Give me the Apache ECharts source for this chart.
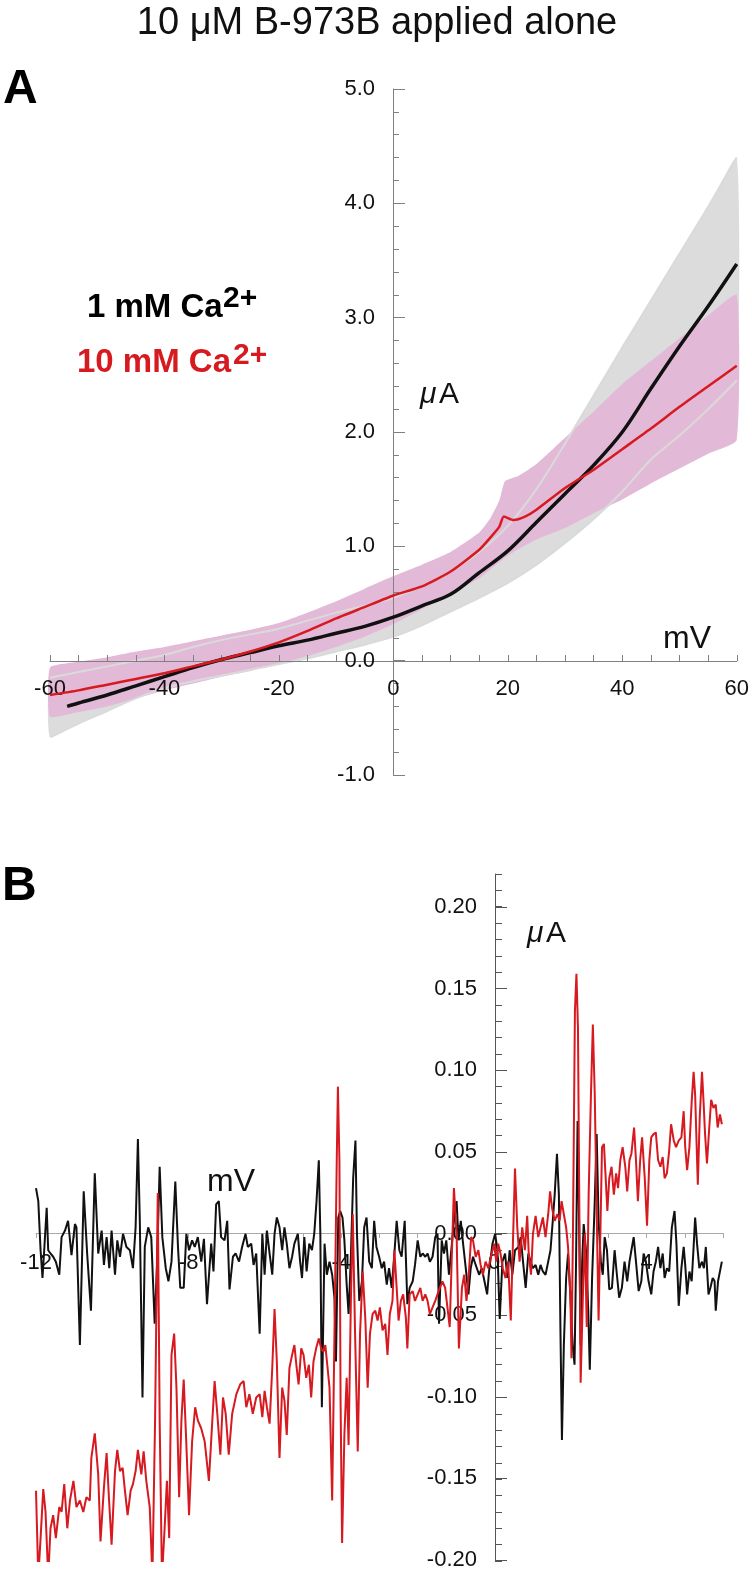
<!DOCTYPE html>
<html><head><meta charset="utf-8">
<script src="https://cdn.jsdelivr.net/npm/echarts@6/dist/echarts.min.js"></script>
<style>html,body{margin:0;padding:0;background:#fff}#c{width:752px;height:1571px}</style>
</head><body><div id="c"></div>
<script>
const FONT = '"Liberation Sans", Arial, Helvetica, sans-serif';

// ---------- Panel A : I-V curves (mV, uA) ----------
const aBlack = [[-57,-0.40],[-55,-0.37],[-50,-0.30],[-45,-0.22],[-40,-0.14],[-35,-0.06],[-30,0.01],[-25,0.07],[-20,0.13],[-15,0.18],[-10,0.24],[-5,0.30],[0,0.38],[5,0.48],[10,0.58],[15,0.77],[20,0.96],[25,1.21],[30,1.46],[35,1.71],[40,2.00],[45,2.38],[50,2.75],[55,3.10],[60,3.47]];
const aRed = [[-60,-0.30],[-55,-0.26],[-50,-0.21],[-45,-0.16],[-40,-0.11],[-35,-0.05],[-30,0.01],[-25,0.08],[-20,0.16],[-15,0.26],[-10,0.37],[-5,0.47],[0,0.57],[5,0.65],[10,0.78],[15,0.97],[17,1.08],[18.5,1.17],[19.3,1.26],[21,1.23],[23,1.26],[25,1.32],[30,1.51],[35,1.67],[40,1.85],[45,2.03],[50,2.22],[55,2.40],[60,2.58]];
const aGrayX    = [-60,-55,-50,-45,-40,-35,-30,-25,-20,-15,-10,-5,0,5,10,15,20,25,30,35,40,45,50,55,60];
const aGrayLow  = [-0.67,-0.55,-0.44,-0.33,-0.24,-0.18,-0.13,-0.08,-0.03,0.02,0.08,0.14,0.21,0.31,0.43,0.55,0.68,0.84,1.03,1.24,1.48,1.76,1.97,2.20,2.45];
const aGrayHigh = [-0.15,-0.10,-0.05,0.00,0.05,0.12,0.18,0.23,0.28,0.35,0.42,0.48,0.55,0.65,0.78,0.95,1.18,1.50,1.90,2.32,2.74,3.15,3.56,3.97,4.40];
const aPinkX    = [-60,-55,-50,-45,-40,-35,-30,-25,-20,-15,-10,-5,0,5,10,15,17,18.5,19.5,22,25,30,35,40,45,50,55,60];
const aPinkHigh = [-0.06,-0.01,0.03,0.08,0.12,0.17,0.22,0.27,0.33,0.42,0.52,0.63,0.74,0.84,0.95,1.12,1.25,1.40,1.57,1.62,1.72,1.95,2.18,2.42,2.62,2.82,3.02,3.20];
const aPinkLow  = [-0.49,-0.45,-0.40,-0.33,-0.26,-0.20,-0.14,-0.09,-0.03,0.04,0.12,0.21,0.32,0.45,0.58,0.72,0.80,0.86,0.90,0.98,1.06,1.16,1.29,1.41,1.55,1.68,1.81,1.93];
const aXLabels = [-60,-40,-20,0,20,40,60];

// ---------- Panel B : difference traces (mV, uA) ----------
const bBlack = [[-12.00,0.028],[-11.94,0.020],[-11.88,-0.010],[-11.83,-0.027],[-11.78,-0.008],[-11.72,0.016],[-11.68,-0.010],[-11.62,-0.012],[-11.55,-0.014],[-11.48,-0.017],[-11.39,-0.025],[-11.33,-0.002],[-11.24,0.002],[-11.16,0.008],[-11.07,-0.013],[-10.98,0.006],[-10.94,0.004],[-10.85,-0.068],[-10.75,0.026],[-10.66,-0.012],[-10.56,-0.047],[-10.46,0.037],[-10.37,-0.012],[-10.28,0.002],[-10.22,-0.019],[-10.15,-0.002],[-10.08,-0.021],[-10.02,0.002],[-9.93,-0.025],[-9.87,-0.004],[-9.80,-0.014],[-9.72,0.000],[-9.63,-0.008],[-9.54,-0.010],[-9.46,-0.021],[-9.39,0.004],[-9.33,0.058],[-9.28,0.008],[-9.21,-0.100],[-9.15,-0.008],[-9.06,0.004],[-8.98,-0.002],[-8.89,-0.055],[-8.83,-0.019],[-8.76,0.041],[-8.69,-0.002],[-8.60,-0.021],[-8.53,-0.029],[-8.45,-0.017],[-8.35,0.032],[-8.28,-0.008],[-8.22,-0.033],[-8.13,-0.033],[-8.06,0.000],[-7.99,-0.010],[-7.91,-0.004],[-7.84,-0.008],[-7.76,-0.002],[-7.67,-0.017],[-7.60,-0.003],[-7.52,-0.043],[-7.41,-0.006],[-7.35,-0.023],[-7.28,0.018],[-7.21,0.020],[-7.15,-0.002],[-7.06,-0.004],[-6.99,0.008],[-6.93,-0.034],[-6.84,-0.014],[-6.77,-0.012],[-6.68,-0.017],[-6.60,-0.008],[-6.51,0.000],[-6.45,-0.008],[-6.36,-0.006],[-6.30,-0.019],[-6.23,-0.012],
[-6.14,-0.061],[-6.07,0.000],[-6.01,-0.025],[-5.95,0.002],[-5.88,-0.012],[-5.81,-0.025],[-5.75,0.000],[-5.69,0.010],[-5.62,0.004],[-5.55,-0.010],[-5.49,0.004],[-5.43,-0.006],[-5.36,-0.021],[-5.29,-0.014],[-5.23,-0.006],[-5.14,0.000],[-5.08,-0.017],[-5.03,-0.027],[-4.97,-0.002],[-4.91,-0.023],[-4.84,-0.006],[-4.77,-0.010],[-4.71,0.000],[-4.65,0.020],[-4.59,0.045],[-4.55,0.000],[-4.51,-0.106],[-4.44,-0.006],[-4.38,-0.025],[-4.31,-0.017],[-4.24,-0.025],[-4.18,-0.039],[-4.14,-0.078],[-4.08,0.010],[-4.03,0.014],[-3.97,0.010],[-3.92,-0.004],[-3.86,-0.031],[-3.81,-0.049],[-3.75,-0.014],[-3.69,0.034],[-3.63,0.057],[-3.59,0.000],[-3.53,-0.041],[-3.46,-0.029],[-3.40,0.004],[-3.34,0.010],[-3.27,-0.017],[-3.20,-0.021],[-3.14,0.008],[-3.08,-0.008],[-3.01,-0.014],[-2.94,-0.021],[-2.88,-0.017],[-2.81,-0.031],[-2.75,-0.021],[-2.68,-0.033],[-2.61,-0.012],[-2.55,0.008],[-2.48,-0.010],[-2.42,-0.014],[-2.34,0.008],[-2.27,-0.043],[-2.21,-0.033],[-2.13,-0.029],[-2.07,-0.019],[-2.00,-0.004],[-1.93,-0.014],[-1.87,-0.012],[-1.80,-0.014],[-1.74,-0.012],[-1.68,-0.017],[-1.61,-0.014],[-1.54,-0.002],[-1.48,0.000],[-1.44,-0.055],[-1.37,-0.004],[-1.31,-0.012],[-1.25,-0.004],[-1.18,-0.025],[-1.11,-0.008],[-1.05,0.008],[-0.98,0.020],[-0.93,-0.004],[-0.87,0.008],[-0.81,-0.006],[-0.74,-0.021],[-0.67,-0.037],[-0.61,-0.021],[-0.55,-0.014],[-0.48,-0.019],[-0.39,-0.025],[-0.32,-0.021],[-0.25,-0.029],[-0.18,-0.037],
[-0.13,-0.023],[-0.04,-0.006],[0.03,0.000],[0.09,-0.010],[0.15,-0.052],[0.22,-0.017],[0.29,-0.012],[0.35,-0.027],[0.41,-0.010],[0.48,-0.025],[0.55,-0.010],[0.64,-0.008],[0.70,-0.002],[0.76,-0.017],[0.83,-0.033],[0.90,-0.012],[0.96,-0.017],[1.02,-0.021],[1.09,-0.019],[1.16,-0.025],[1.22,-0.019],[1.28,-0.023],[1.35,-0.025],[1.42,-0.017],[1.48,-0.010],[1.54,0.008],[1.59,0.024],[1.65,0.049],[1.70,0.024],[1.74,-0.057],[1.78,-0.126],[1.83,-0.068],[1.89,-0.027],[1.94,-0.012],[2.00,-0.037],[2.06,-0.068],[2.11,-0.080],[2.15,-0.017],[2.19,0.069],[2.22,0.024],[2.27,-0.068],[2.31,-0.017],[2.35,0.006],[2.41,-0.010],[2.47,-0.047],[2.51,-0.083],[2.57,-0.027],[2.64,0.020],[2.69,0.061],[2.74,0.008],[2.80,-0.017],[2.85,-0.025],[2.90,-0.002],[2.96,-0.010],[3.02,-0.034],[3.09,-0.033],[3.16,-0.010],[3.22,-0.025],[3.28,-0.039],[3.35,-0.033],[3.42,-0.017],[3.49,-0.029],[3.55,-0.017],[3.60,-0.010],[3.66,-0.002],[3.72,-0.017],[3.79,-0.035],[3.86,-0.029],[3.92,-0.012],[3.98,-0.017],[4.05,-0.029],[4.12,-0.037],[4.18,-0.023],[4.24,-0.017],[4.30,-0.008],[4.36,-0.021],[4.42,-0.012],[4.47,-0.027],[4.53,-0.021],[4.59,-0.023],[4.66,0.004],[4.73,0.014],[4.78,-0.006],[4.84,-0.044],[4.91,-0.021],[4.97,-0.008],[5.01,-0.019],[5.06,-0.037],[5.12,-0.023],[5.18,-0.029],[5.23,-0.008],[5.27,0.010],[5.32,-0.006],[5.38,-0.021],[5.45,-0.017],[5.50,-0.021],[5.55,-0.008],[5.62,-0.037],[5.67,-0.033],[5.73,-0.027],[5.78,-0.029],[5.81,-0.047],[5.87,-0.029],[5.92,-0.029],[5.97,-0.017]];

const bRed = [[-12.00,-0.157],[-11.94,-0.21],[-11.88,-0.186],[-11.81,-0.156],[-11.75,-0.170],[-11.68,-0.21],[-11.62,-0.180],[-11.55,-0.172],[-11.48,-0.186],[-11.39,-0.167],[-11.33,-0.170],[-11.26,-0.153],[-11.18,-0.180],[-11.11,-0.163],[-11.02,-0.151],[-10.94,-0.167],[-10.85,-0.163],[-10.76,-0.170],[-10.68,-0.161],[-10.59,-0.163],[-10.55,-0.137],[-10.46,-0.122],[-10.37,-0.147],[-10.31,-0.188],[-10.22,-0.155],[-10.15,-0.134],[-10.09,-0.161],[-10.02,-0.190],[-9.93,-0.145],[-9.87,-0.132],[-9.80,-0.145],[-9.73,-0.143],[-9.67,-0.157],[-9.60,-0.172],[-9.52,-0.157],[-9.46,-0.153],[-9.39,-0.145],[-9.33,-0.132],[-9.24,-0.147],[-9.18,-0.133],[-9.11,-0.151],[-9.02,-0.167],[-8.95,-0.21],[-8.88,-0.114],[-8.81,0.025],[-8.76,-0.114],[-8.70,-0.21],[-8.63,-0.180],[-8.57,-0.151],[-8.51,-0.186],[-8.45,-0.074],[-8.38,-0.061],[-8.32,-0.094],[-8.25,-0.161],[-8.19,-0.114],[-8.13,-0.089],[-8.06,-0.129],[-7.99,-0.172],[-7.91,-0.127],[-7.83,-0.106],[-7.76,-0.114],[-7.67,-0.119],[-7.58,-0.127],[-7.47,-0.151],[-7.38,-0.114],[-7.32,-0.090],[-7.25,-0.110],[-7.17,-0.135],[-7.10,-0.100],[-7.03,-0.110],[-6.95,-0.135],[-6.86,-0.110],[-6.75,-0.098],[-6.65,-0.092],[-6.56,-0.090],[-6.49,-0.106],[-6.41,-0.098],[-6.32,-0.110],[-6.23,-0.100],
[-6.14,-0.098],[-6.07,-0.112],[-6.01,-0.096],[-5.95,-0.106],[-5.88,-0.116],[-5.81,-0.082],[-5.75,-0.046],[-5.69,-0.078],[-5.62,-0.137],[-5.55,-0.094],[-5.49,-0.102],[-5.43,-0.123],[-5.36,-0.082],[-5.29,-0.074],[-5.23,-0.068],[-5.17,-0.082],[-5.12,-0.092],[-5.05,-0.070],[-4.99,-0.074],[-4.92,-0.088],[-4.85,-0.080],[-4.79,-0.100],[-4.73,-0.078],[-4.66,-0.070],[-4.59,-0.064],[-4.53,-0.070],[-4.47,-0.072],[-4.42,-0.068],[-4.36,-0.082],[-4.31,-0.094],[-4.24,-0.163],[-4.18,-0.061],[-4.12,0.045],[-4.09,0.090],[-4.05,0.045],[-4.02,-0.102],[-3.98,-0.189],[-3.92,-0.123],[-3.86,-0.088],[-3.81,-0.129],[-3.75,-0.041],[-3.70,0.012],[-3.64,-0.061],[-3.57,-0.133],[-3.51,-0.061],[-3.44,-0.023],[-3.37,-0.053],[-3.31,-0.094],[-3.25,-0.061],[-3.18,-0.049],[-3.11,-0.047],[-3.05,-0.053],[-2.99,-0.045],[-2.92,-0.059],[-2.85,-0.055],[-2.79,-0.074],[-2.73,-0.049],[-2.66,-0.041],[-2.61,-0.010],[-2.55,-0.033],[-2.50,-0.053],[-2.44,-0.041],[-2.38,-0.037],[-2.31,-0.051],[-2.27,-0.070],[-2.21,-0.037],[-2.13,-0.035],[-2.07,-0.041],[-2.00,-0.037],[-1.93,-0.033],[-1.87,-0.041],[-1.80,-0.037],[-1.74,-0.041],[-1.68,-0.049],[-1.61,-0.045],[-1.54,-0.041],[-1.48,-0.037],[-1.42,-0.033],[-1.35,-0.029],[-1.28,-0.033],[-1.22,-0.045],[-1.16,-0.057],[-1.11,-0.017],[-1.05,0.028],[-0.98,0.000],[-0.92,-0.070],[-0.84,-0.033],[-0.78,-0.025],[-0.72,-0.041],[-0.65,-0.021],[-0.60,-0.002],[-0.55,-0.004],[-0.48,-0.014],[-0.41,-0.010],[-0.35,-0.019],[-0.29,-0.025],[-0.22,-0.017],[-0.15,-0.021],
[-0.06,-0.012],[0.00,-0.006],[0.06,-0.017],[0.11,-0.006],[0.17,-0.012],[0.23,-0.021],[0.30,-0.027],[0.37,-0.017],[0.44,-0.053],[0.50,-0.002],[0.55,0.040],[0.61,0.004],[0.67,-0.017],[0.74,0.004],[0.81,-0.010],[0.87,0.011],[0.91,-0.012],[0.97,-0.025],[1.02,0.000],[1.09,0.011],[1.16,-0.002],[1.22,0.004],[1.28,0.010],[1.35,-0.002],[1.42,0.012],[1.47,0.026],[1.52,0.016],[1.59,0.008],[1.66,0.012],[1.72,0.008],[1.77,0.020],[1.83,0.012],[1.89,0.004],[1.94,-0.008],[2.00,-0.037],[2.03,-0.076],[2.07,0.004],[2.12,0.136],[2.16,0.159],[2.20,0.126],[2.24,0.004],[2.27,-0.091],[2.33,-0.037],[2.38,0.000],[2.43,-0.057],[2.48,0.024],[2.54,0.085],[2.59,0.128],[2.64,0.085],[2.69,0.014],[2.74,-0.053],[2.79,0.004],[2.83,0.053],[2.88,0.055],[2.92,0.037],[2.97,0.014],[3.02,0.034],[3.08,0.041],[3.14,0.024],[3.20,0.037],[3.25,0.028],[3.31,0.045],[3.37,0.053],[3.44,0.041],[3.49,0.026],[3.55,0.045],[3.60,0.049],[3.67,0.065],[3.72,0.045],[3.77,0.020],[3.83,0.045],[3.88,0.059],[3.95,0.034],[4.01,0.005],[4.07,0.045],[4.12,0.059],[4.18,0.061],[4.24,0.062],[4.30,0.045],[4.36,0.041],[4.42,0.047],[4.47,0.034],[4.53,0.037],[4.59,0.051],[4.64,0.067],[4.71,0.057],[4.77,0.053],[4.84,0.057],[4.91,0.059],[4.97,0.075],[5.01,0.053],[5.06,0.039],[5.12,0.053],[5.18,0.081],[5.23,0.099],[5.27,0.085],[5.34,0.030],[5.39,0.071],[5.45,0.099],[5.49,0.081],[5.53,0.061],[5.58,0.043],[5.64,0.065],[5.69,0.082],[5.75,0.077],[5.81,0.079],[5.86,0.065],[5.92,0.073],[5.97,0.067]];
const bXLabels = [-12,-8,-4,0,4];

// ---------- colours ----------
const BLACK = '#111111', RED = '#d71920', GRAY_BAND = '#dcdcdc', GRAY_EDGE = '#dadada', PINK_BAND = '#e2bad8';

// ---------- layout (pixels of the 752 x 1571 page) ----------
const A_LEFT = 50, A_RIGHT = 15, A_TOP = 89, A_H = 686;          // x -60..60, y -1..5
const A_ZERO_X = 343, A_ZERO_Y = 114;                               // offsets of the zero lines from grid edges
const B_LEFT = 36, B_RIGHT = 29, B_TOP = 874, B_H = 687;            // x -12..6, y -0.20..0.22
const B2_TOP = 907, B2_H = 654;                                     // y -0.20..0.20
const B_ZERO_X = 459, B_ZERO_Y = 328;

function bandSeries(xs, lo, hi, color, z) {
  return {
    type: 'custom', xAxisIndex: 0, yAxisIndex: 0, silent: true, z: z,
    data: [[xs[0], lo[0]]],
    renderItem: function (params, api) {
      if (params.dataIndex !== 0) return null;
      const pts = [];
      for (let i = 0; i < xs.length; i++) pts.push(api.coord([xs[i], hi[i]]));
      for (let i = xs.length - 1; i >= 0; i--) pts.push(api.coord([xs[i], lo[i]]));
      return { type: 'polygon', shape: { points: pts, smooth: 0.15 }, style: { fill: color, stroke: null } };
    }
  };
}
function edgeSeries(xs, ys, color, z) {
  return { type: 'line', xAxisIndex: 0, yAxisIndex: 0, data: xs.map((x, i) => [x, ys[i]]),
    showSymbol: false, symbol: 'none', z: z, smooth: 0.3, silent: true,
    lineStyle: { color: color, width: 2 } };
}

function txt(x, y, text, font, fill, align) {
  return { type: 'text', x: x, y: y, silent: true, z: 100,
    style: { text: text, font: font, fill: fill, textAlign: align || 'left', align: align || 'left',
             textVerticalAlign: 'middle', verticalAlign: 'middle' } };
}

const chart = echarts.init(document.getElementById('c'), null, { renderer: 'canvas' });
chart.setOption({
  animation: false,
  backgroundColor: '#ffffff',
  textStyle: { fontFamily: FONT },
  grid: [
    { left: A_LEFT, right: A_RIGHT, top: A_TOP, height: A_H },
    { left: B_LEFT, right: B_RIGHT, top: B_TOP, height: B_H },
    { left: B_LEFT, right: B_RIGHT, top: B2_TOP, height: B2_H }
  ],
  xAxis: [
    { gridIndex: 0, type: 'value', min: -60, max: 60, interval: 5, position: 'bottom', offset: -A_ZERO_Y, z: 10,
      axisLine: { onZero: false, lineStyle: { color: '#808080', width: 1 } },
      axisTick: { inside: true, length: 6, lineStyle: { color: '#808080' } },
      axisLabel: { showMinLabel: true, showMaxLabel: true, fontSize: 22, color: '#111', margin: 17, fontFamily: FONT,
        formatter: function (v) { const r = Math.round(v); return aXLabels.indexOf(r) >= 0 && Math.abs(v - r) < 1e-6 ? String(r) : ''; } },
      splitLine: { show: false } },
    { gridIndex: 1, type: 'value', min: -12, max: 6, interval: 1, position: 'bottom', offset: -B_ZERO_Y,
      axisLine: { onZero: false, lineStyle: { color: '#a8a8a8', width: 1 } },
      axisTick: { inside: false, length: 5, lineStyle: { color: '#a8a8a8' } },
      axisLabel: { showMinLabel: true, fontSize: 22, color: '#111', margin: 19, fontFamily: FONT,
        formatter: function (v) { const r = Math.round(v); return bXLabels.indexOf(r) >= 0 && Math.abs(v - r) < 1e-6 ? String(r) : ''; } },
      splitLine: { show: false } },
    { gridIndex: 2, type: 'value', min: -12, max: 6, show: false, splitLine: { show: false } }
  ],
  yAxis: [
    { gridIndex: 0, type: 'value', min: -1, max: 5, interval: 1, position: 'left', offset: -A_ZERO_X, z: 10,
      axisLine: { onZero: false, lineStyle: { color: '#808080', width: 1 } },
      axisTick: { inside: true, length: 12, lineStyle: { color: '#808080' } },
      minorTick: { show: true, splitNumber: 5, length: 6, lineStyle: { color: '#808080' } },
      axisLabel: { fontSize: 22, color: '#111', margin: 18, fontFamily: FONT, showMinLabel: true, showMaxLabel: true,
        formatter: function (v) { return v.toFixed(1); } },
      splitLine: { show: false }, minorSplitLine: { show: false } },
    { gridIndex: 1, type: 'value', min: -0.2, max: 0.22, interval: 0.01, position: 'left', offset: -B_ZERO_X,
      axisLine: { onZero: false, lineStyle: { color: '#555', width: 1 } },
      axisTick: { inside: true, length: 7, lineStyle: { color: '#555' } },
      axisLabel: { show: false }, splitLine: { show: false } },
    { gridIndex: 2, type: 'value', min: -0.2, max: 0.2, interval: 0.05, position: 'left', offset: -B_ZERO_X,
      axisLine: { onZero: false, lineStyle: { color: '#555', width: 1 } },
      axisTick: { inside: true, length: 12, lineStyle: { color: '#555' } },
      axisLabel: { fontSize: 22, color: '#111', margin: 18, fontFamily: FONT, showMinLabel: true, showMaxLabel: true,
        formatter: function (v) { return v.toFixed(2); } },
      splitLine: { show: false } }
  ],
  series: [
    bandSeries(aGrayX, aGrayLow, aGrayHigh, GRAY_BAND, 1),
    bandSeries(aPinkX, aPinkLow, aPinkHigh, PINK_BAND, 2),
    edgeSeries(aGrayX, aGrayLow, GRAY_EDGE, 3),
    edgeSeries(aGrayX, aGrayHigh, GRAY_EDGE, 3),
    { type: 'line', xAxisIndex: 0, yAxisIndex: 0, data: aBlack, showSymbol: false, symbol: 'none', z: 11, smooth: 0.35,
      lineStyle: { color: BLACK, width: 3.5 }, silent: true },
    { type: 'line', xAxisIndex: 0, yAxisIndex: 0, data: aRed, showSymbol: false, symbol: 'none', z: 12, smooth: 0.2,
      lineStyle: { color: RED, width: 2.5 }, silent: true },
    { type: 'line', xAxisIndex: 1, yAxisIndex: 1, data: bBlack, showSymbol: false, symbol: 'none', z: 3, clip: true,
      lineStyle: { color: BLACK, width: 2 }, silent: true },
    { type: 'line', xAxisIndex: 1, yAxisIndex: 1, data: bRed, showSymbol: false, symbol: 'none', z: 4, clip: true,
      lineStyle: { color: RED, width: 2 }, silent: true }
  ],
  graphic: [
    txt(377, 24, '10 \u03bcM B-973B applied alone', '38px ' + FONT, '#111', 'center'),
    txt(3, 90, 'A', 'bold 48px ' + FONT, '#000'),
    txt(2, 887, 'B', 'bold 48px ' + FONT, '#000'),
    txt(87, 308, '1 mM Ca', 'bold 33px ' + FONT, '#000'),
    txt(223, 299, '2+', 'bold 30px ' + FONT, '#000'),
    txt(77, 363, '10 mM Ca', 'bold 33px ' + FONT, RED),
    txt(233, 356, '2+', 'bold 30px ' + FONT, RED),
    txt(420, 395, '\u03bc', 'italic 30px ' + FONT, '#111'),
    txt(439, 395, 'A', '30px ' + FONT, '#111'),
    txt(663, 639, 'mV', '32px ' + FONT, '#111'),
    txt(527, 934, '\u03bc', 'italic 30px ' + FONT, '#111'),
    txt(546, 934, 'A', '30px ' + FONT, '#111'),
    txt(207, 1182, 'mV', '32px ' + FONT, '#111')
  ]
});
</script></body></html>
